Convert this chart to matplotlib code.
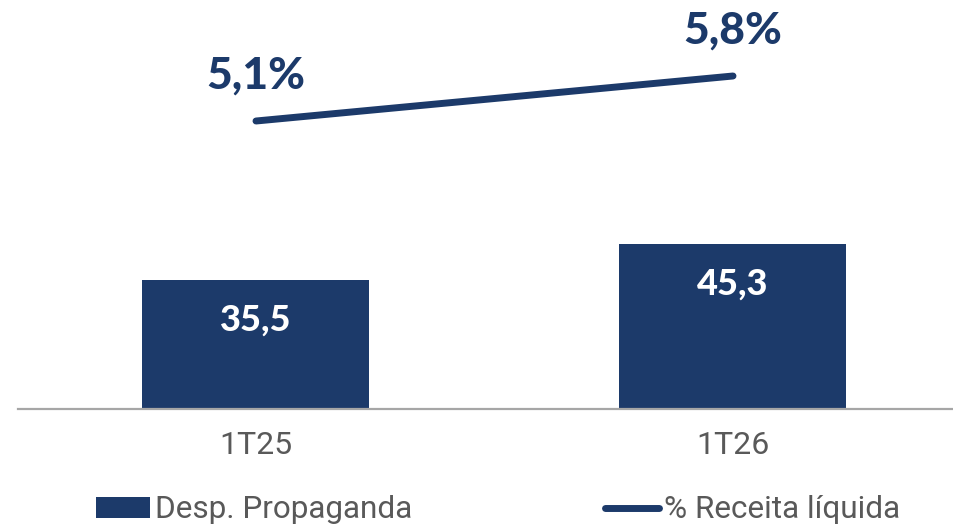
import matplotlib
matplotlib.use("Agg")
import matplotlib.pyplot as plt
from matplotlib.lines import Line2D
from matplotlib.patches import Patch

categories = ["1T25", "1T26"]
desp_propaganda = [35.5, 45.3]
pct_receita = [5.1, 5.8]
bar_labels = ["35,5", "45,3"]
pct_labels = ["5,1%", "5,8%"]

NAVY = "#1C3A6A"
GRAY_TXT = "#595959"

fig = plt.figure(figsize=(9.54, 5.26), dpi=100)
W, H = 954, 526
ax = fig.add_axes([18 / W, (H - 409) / H, 1 - 18 / W, 409 / H])
x = [0, 1]
ax.bar(x, desp_propaganda, width=227 / 477, color=NAVY, zorder=2)
ax.set_xlim((18 - 256) / 477, (954 - 256) / 477)
ax.set_ylim(0, 409 / 3.634)
for s in ["top", "right", "left"]:
    ax.spines[s].set_visible(False)
ax.spines["bottom"].set_color("#A6A6A6")
ax.spines["bottom"].set_linewidth(1.6)
ax.set_yticks([])
ax.set_xticks(x)
ax.set_xticklabels(categories, fontsize=23, color=GRAY_TXT, family="Roboto")
ax.tick_params(axis="x", length=0, pad=16)

for xi, v, lab in zip(x, desp_propaganda, bar_labels):
    ax.text(xi, v - 11, lab, ha="center", va="center", color="white",
            fontsize=26, fontweight="black", family="Lato")

ax2 = ax.twinx()
ax2.set_ylim(5.1 - 288 / 64.3, 5.8 + 76 / 64.3)
ax2.plot(x, pct_receita, color=NAVY, lw=5, solid_capstyle="round", zorder=3)
ax2.axis("off")
for xi, v, lab in zip(x, pct_receita, pct_labels):
    ax2.annotate(lab, (xi, v), xytext=(0, 33), textcoords="offset points",
                 ha="center", va="center", color=NAVY, fontsize=32,
                 fontweight="black", family="Lato")

handles = [Patch(facecolor=NAVY, edgecolor="none"),
           Line2D([0], [0], color=NAVY, lw=5, solid_capstyle="round")]
fig.legend(handles, ["Desp. Propaganda", "% Receita líquida"],
           loc="center", bbox_to_anchor=(498 / W, 1 - 510 / H), ncol=2,
           frameon=False, handlelength=1.72, handleheight=0.66, handletextpad=0.17,
           columnspacing=6.1, borderpad=0, borderaxespad=0,
           prop={"family": "Roboto", "size": 22.7},
           labelcolor=GRAY_TXT)

fig.savefig("out.png", dpi=100)
